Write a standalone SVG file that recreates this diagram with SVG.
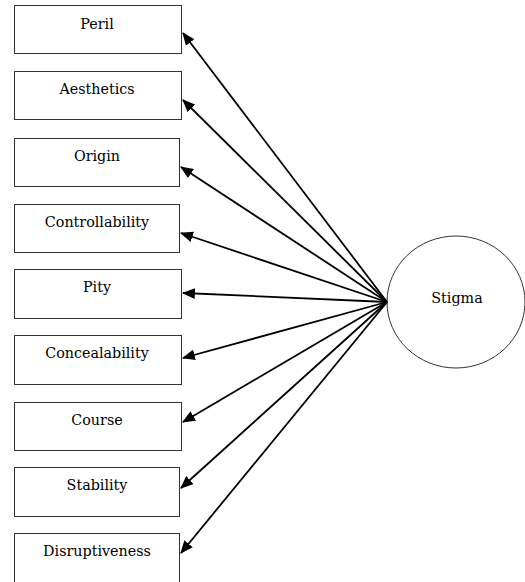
<svg xmlns="http://www.w3.org/2000/svg" width="525" height="582" viewBox="0 0 525 582">
<style>
.box{fill:#fff;stroke:#333;stroke-width:1}
.lbl{font-family:'DejaVu Serif','Liberation Serif',serif;font-size:14.3px;fill:#000;text-anchor:middle}
.conn{stroke:#000;stroke-width:1.8;fill:none;marker-end:url(#ah)}
</style>
<defs>
<marker id="ah" viewBox="0 0 12 10" refX="11" refY="5" markerWidth="13" markerHeight="11" markerUnits="userSpaceOnUse" orient="auto">
<path d="M0,0 L12,5 L0,10 z" fill="#000"/>
</marker>
</defs>
<rect width="525" height="582" fill="#fff"/>
<g id="peril"><rect class="box" x="14.5" y="5.5" width="167" height="48"/><text class="lbl" x="97" y="29">Peril</text></g>
<g id="aesthetics"><rect class="box" x="14.5" y="71.5" width="167" height="48"/><text class="lbl" x="97" y="94">Aesthetics</text></g>
<g id="origin"><rect class="box" x="14.5" y="138.5" width="165" height="48"/><text class="lbl" x="97" y="161">Origin</text></g>
<g id="controllability"><rect class="box" x="14.5" y="204.5" width="165" height="48"/><text class="lbl" x="97" y="227">Controllability</text></g>
<g id="pity"><rect class="box" x="14.5" y="269.5" width="167" height="49"/><text class="lbl" x="97" y="292">Pity</text></g>
<g id="concealability"><rect class="box" x="14.5" y="335.5" width="167" height="49"/><text class="lbl" x="97" y="358">Concealability</text></g>
<g id="course"><rect class="box" x="14.5" y="402.5" width="167" height="48"/><text class="lbl" x="97" y="425">Course</text></g>
<g id="stability"><rect class="box" x="14.5" y="467.5" width="165" height="49"/><text class="lbl" x="97" y="490">Stability</text></g>
<g id="disruptiveness"><rect class="box" x="14.5" y="533.5" width="165" height="49"/><text class="lbl" x="97" y="556">Disruptiveness</text></g>
<g id="stigma"><ellipse cx="456" cy="302" rx="69" ry="66" fill="#fff" stroke="#333" stroke-width="1"/><text class="lbl" x="457" y="303">Stigma</text></g>
<g id="connectors">
<line class="conn" x1="387" y1="302" x2="183" y2="33"/>
<line class="conn" x1="387" y1="302" x2="183" y2="100"/>
<line class="conn" x1="387" y1="302" x2="181" y2="167"/>
<line class="conn" x1="387" y1="302" x2="181" y2="233"/>
<line class="conn" x1="387" y1="302" x2="183" y2="293"/>
<line class="conn" x1="387" y1="302" x2="183" y2="358"/>
<line class="conn" x1="387" y1="302" x2="183" y2="422"/>
<line class="conn" x1="387" y1="302" x2="181" y2="488"/>
<line class="conn" x1="387" y1="302" x2="181" y2="553"/>
</g>
</svg>
